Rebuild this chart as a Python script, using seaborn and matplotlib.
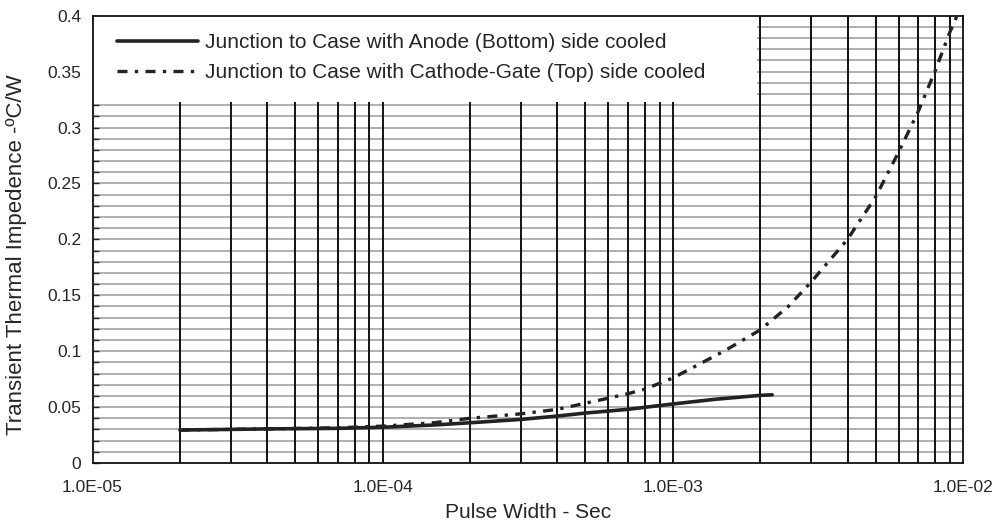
import numpy as np
import pandas as pd
import matplotlib
matplotlib.use("Agg")
import matplotlib.pyplot as plt
import seaborn as sns
from matplotlib.patches import Rectangle
from matplotlib.ticker import FixedLocator, FuncFormatter, NullFormatter

sns.set_style("white")
plt.rcParams['font.family'] = ['Liberation Sans', 'DejaVu Sans']

# pulse width (s) and transient thermal impedance (degC/W)
anode_x = [2e-5, 4e-5, 7e-5, 1e-4, 1.5e-4, 2e-4, 3e-4, 4e-4, 5e-4, 7e-4,
           1e-3, 1.4e-3, 2e-3, 2.2e-3]
anode_y = [0.0295, 0.0305, 0.031, 0.032, 0.034, 0.036, 0.039, 0.042, 0.0447,
           0.048, 0.0528, 0.057, 0.0605, 0.061]

cathode_x = [2e-5, 4e-5, 7e-5, 1e-4, 1.5e-4, 2e-4, 3e-4, 4e-4, 5e-4, 6e-4,
             7e-4, 8e-4, 1e-3, 1.5e-3, 2e-3, 2.5e-3, 3e-3, 4e-3, 5e-3, 6e-3,
             7e-3, 8e-3, 9e-3, 1e-2]
cathode_y = [0.0295, 0.0305, 0.0315, 0.033, 0.036, 0.040, 0.044, 0.048,
             0.0535, 0.058, 0.062, 0.066, 0.076, 0.100, 0.119, 0.140, 0.162,
             0.200, 0.238, 0.278, 0.314, 0.350, 0.385, 0.412]

anode_label = 'Junction to Case with Anode (Bottom) side cooled'
cathode_label = 'Junction to Case with Cathode-Gate (Top) side cooled'

df_a = pd.DataFrame({'x': anode_x, 'y': anode_y})
df_c = pd.DataFrame({'x': cathode_x, 'y': cathode_y})

fig = plt.figure(figsize=(9.94, 5.27), dpi=100)
ax = fig.add_axes([0.0931, 0.1214, 0.8757, 0.8488])
ax.set_xscale('log')
ax.set_xlim(1e-5, 1e-2)
ax.set_ylim(0, 0.4)

# grid drawn by hand so the legend panel can hide part of it
grid_x = [k * 10.0 ** e for e in (-5, -4, -3) for k in range(1, 10)][1:]
grid_y = np.arange(0.01, 0.40, 0.01)
ax.hlines(grid_y, 1e-5, 1e-2, color='#9a9a9a', lw=1.1, zorder=0.5)
ax.vlines(grid_x, 0, 0.4, color='#111111', lw=1.4, zorder=0.6)
ax.add_patch(Rectangle((1e-5, 0.323), 1.95e-3 - 1e-5, 0.077,
                       facecolor='white', edgecolor='none', zorder=1))

sns.lineplot(data=df_a, x='x', y='y', ax=ax, color='#222222', lw=2.6,
             label=anode_label, zorder=3)
sns.lineplot(data=df_c, x='x', y='y', ax=ax, color='#222222', lw=2.4,
             linestyle=(0, (3, 2.2, 1, 2.2)), label=cathode_label, zorder=3)

ax.xaxis.set_major_locator(FixedLocator([1e-5, 1e-4, 1e-3, 1e-2]))
ax.xaxis.set_major_formatter(FuncFormatter(lambda v, p: f"{v:.1E}"))
ax.xaxis.set_minor_locator(FixedLocator(grid_x))
ax.xaxis.set_minor_formatter(NullFormatter())
ax.yaxis.set_major_locator(FixedLocator(np.arange(0, 0.41, 0.05)))
ax.yaxis.set_major_formatter(FuncFormatter(lambda v, p: f"{v:g}"))
ax.yaxis.set_minor_locator(FixedLocator(grid_y))

ax.tick_params(axis='x', which='both', direction='in', top=True, bottom=False,
               length=6, width=1.2, labelsize=12.5, pad=12)
ax.tick_params(axis='y', which='both', direction='in', left=True, right=False,
               length=4, width=1, labelsize=12.5, pad=8)

for s in ax.spines.values():
    s.set_color('#111111')
    s.set_linewidth(1.3)
    s.set_zorder(4)

ax.set_xlabel('Pulse Width - Sec', fontsize=15, labelpad=6)
ax.set_ylabel('Transient Thermal Impedence -ºC/W', fontsize=16)
ax.yaxis.set_label_coords(-0.075, 0.465)

ax.legend(loc='upper left', bbox_to_anchor=(0.018, 0.98), frameon=False,
          fontsize=15, handlelength=3.9, handletextpad=0.35, labelspacing=0.55,
          borderaxespad=0)

plt.savefig('out.png', dpi=100)
plt.close()
